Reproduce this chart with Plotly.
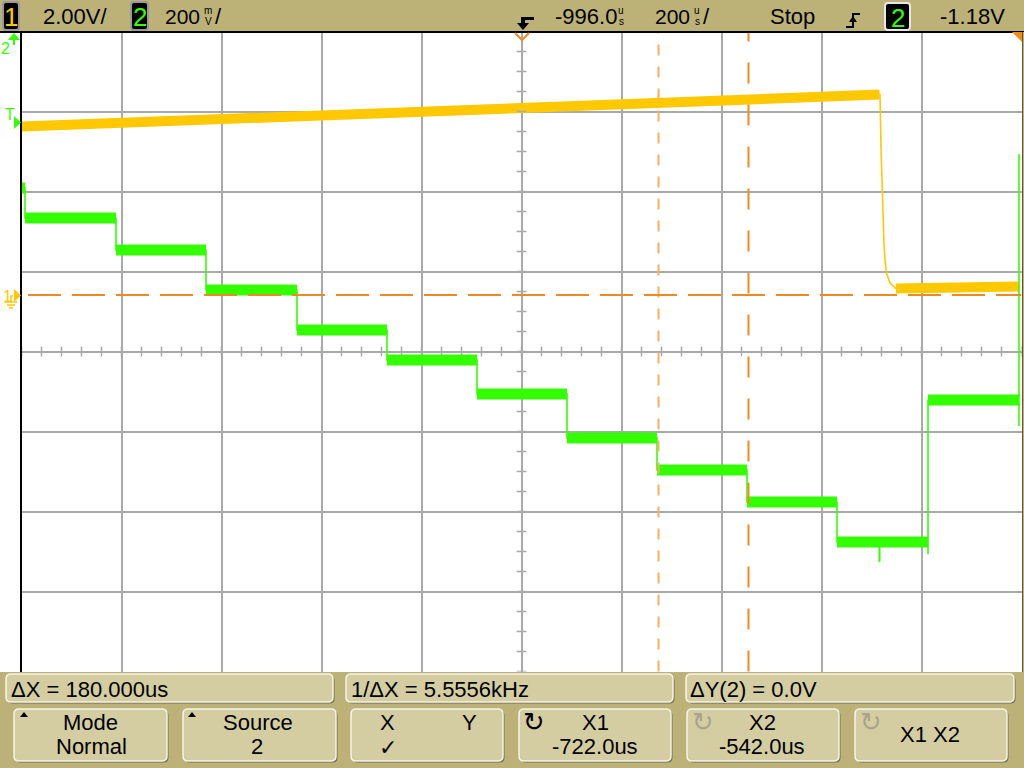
import plotly.graph_objects as go

W, H = 1024, 768
FONT = "Liberation Sans, Arial, sans-serif"

# ---------------- data ----------------
# Channel 1 (yellow, 2.00 V/div), time in microseconds, volts
ch1_t = [-1996, -279, -277, -275, -273, -271, -269, -266, -259, -247, -1]
ch1_v = [4.21, 5.01, 3.71, 2.63, 1.83, 1.25, 0.88, 0.55, 0.30, 0.16, 0.21]

# Channel 2 (green, 200 mV/div) staircase: step edges and levels
ch2_edges = [-1996, -1989, -1807, -1627, -1445, -1265, -1085, -905, -725, -545, -365, -183, -1]
ch2_levels = [-1.345, -1.42, -1.50, -1.60, -1.70, -1.775, -1.86, -1.97, -2.05, -2.13, -2.23, -1.875]
ch2_glitch_t = [-280]
ch2_glitch_v = [-2.28]
ch2_end_spike_v = [-1.94, -1.26]

# scope settings
t_center = -996.0
t_per_div = 200.0
ch1_per_div = 2.0
ch1_center = -1.4125
ch2_per_div = 0.2
ch2_center = -1.75375
cursor_x1 = -722.0
cursor_x2 = -542.0

# ---------------- geometry ----------------
PX0, PX1 = 21.5, 1021.5
PY0, PY1 = 31.5, 671.5
YEL = "#FFC800"
GRN = "#33FF00"
TAN = "#BCB278"
GRID = "#A9A9A9"


def X(x):
    return x / W


def Y(y):
    return 1 - y / H


fig = go.Figure()

# ---- channel 1 ----
band1_t = [ch1_t[0], ch1_t[1] - 1, None, ch1_t[-2], ch1_t[-1]]
band1_v = [ch1_v[0], ch1_v[1], None, ch1_v[-2], ch1_v[-1]]
fig.add_trace(go.Scatter(x=band1_t, y=band1_v, mode="lines", line=dict(color=YEL, width=10),
                         yaxis="y", hoverinfo="skip"))
fig.add_trace(go.Scatter(x=ch1_t, y=ch1_v, mode="lines", line=dict(color=YEL, width=1.6),
                         yaxis="y", hoverinfo="skip"))

# ---- channel 2 ----
bt, bv, lt, lv = [], [], [], []
n = len(ch2_levels)
for i, lev in enumerate(ch2_levels):
    a, b = ch2_edges[i], ch2_edges[i + 1]
    bt += [a, b, None]
    bv += [lev, lev, None]
    if i == n - 1:
        # rising edge overshoots downward first
        lt += [a, a, b]
        lv += [ch2_levels[i - 1] - 0.03, lev, lev]
    else:
        lt += [a, b]
        lv += [lev, lev]
lt += [ch2_edges[-1], ch2_edges[-1]]
lv += ch2_end_spike_v
fig.add_trace(go.Scatter(x=bt, y=bv, mode="lines", line=dict(color=GRN, width=11),
                         yaxis="y2", hoverinfo="skip"))
fig.add_trace(go.Scatter(x=lt, y=lv, mode="lines", line=dict(color=GRN, width=1.6),
                         yaxis="y2", hoverinfo="skip"))
# glitch
gx, gy = [], []
for gt, gv in zip(ch2_glitch_t, ch2_glitch_v):
    lev = [l for i, l in enumerate(ch2_levels) if ch2_edges[i] < gt < ch2_edges[i + 1]][0]
    gx += [gt, gt, None]
    gy += [lev, gv, None]
fig.add_trace(go.Scatter(x=gx, y=gy, mode="lines", line=dict(color=GRN, width=2),
                         yaxis="y2", hoverinfo="skip"))

# ---- centre-axis tick marks ----
t_lo, t_hi = t_center - 5 * t_per_div, t_center + 5 * t_per_div
y_lo, y_hi = ch1_center - 4 * ch1_per_div, ch1_center + 4 * ch1_per_div
ht = [t_lo + k * t_per_div / 5 for k in range(51)]
fig.add_trace(go.Scatter(x=ht, y=[ch1_center] * len(ht), mode="markers", yaxis="y",
                         marker=dict(symbol="line-ns-open", size=7, color=GRID,
                                     line=dict(width=1.5, color=GRID)),
                         hoverinfo="skip"))
vt = [y_lo + k * ch1_per_div / 4 for k in range(33)]
fig.add_trace(go.Scatter(x=[t_center] * len(vt), y=vt, mode="markers", yaxis="y",
                         marker=dict(symbol="line-ew-open", size=7, color=GRID,
                                     line=dict(width=1.5, color=GRID)),
                         hoverinfo="skip"))

shapes = []
ann = []


def path_shape(d, fill=None, line=None, width=0):
    s = dict(type="path", path=d, xref="paper", yref="paper", layer="above",
             line=dict(color=line or "rgba(0,0,0,0)", width=width))
    if fill:
        s["fillcolor"] = fill
    return s


def poly(pts, close=True):
    d = "M " + " L ".join(f"{X(x)},{Y(y)}" for x, y in pts)
    return d + (" Z" if close else "")


def rect(x0, y0, x1, y1, fill, line=None, width=0):
    return dict(type="rect", xref="paper", yref="paper", x0=X(x0), x1=X(x1), y0=Y(y1), y1=Y(y0),
                fillcolor=fill, line=dict(color=line or "rgba(0,0,0,0)", width=width), layer="above")


def rrect(x0, y0, x1, y1, r=5):
    return (f"M {X(x0+r)},{Y(y0)} L {X(x1-r)},{Y(y0)} Q {X(x1)},{Y(y0)} {X(x1)},{Y(y0+r)} "
            f"L {X(x1)},{Y(y1-r)} Q {X(x1)},{Y(y1)} {X(x1-r)},{Y(y1)} L {X(x0+r)},{Y(y1)} "
            f"Q {X(x0)},{Y(y1)} {X(x0)},{Y(y1-r)} L {X(x0)},{Y(y0+r)} Q {X(x0)},{Y(y0)} {X(x0+r)},{Y(y0)} Z")


def text(s, x, y, size=22, color="black", xanchor="center", family=FONT):
    ann.append(dict(text=s, x=X(x), y=Y(y), xref="paper", yref="paper", showarrow=False,
                    xanchor=xanchor, yanchor="middle", font=dict(size=size, color=color, family=family)))


# cursors
shapes.append(dict(type="line", xref="x", yref="y domain", x0=cursor_x1, x1=cursor_x1, y0=0, y1=1,
                   line=dict(color="#F5B060", width=2, dash="11px,11px"), layer="above"))
shapes.append(dict(type="line", xref="x", yref="y domain", x0=cursor_x2, x1=cursor_x2, y0=0, y1=1,
                   line=dict(color="#F08C1E", width=2, dash="21px,21px"), layer="above"))
# channel 1 ground reference dashed line
shapes.append(dict(type="line", xref="paper", yref="y", x0=X(28), x1=X(1021), y0=0, y1=0,
                   line=dict(color="#EE8A22", width=2, dash="33px,11px"), layer="above"))

# top bar
shapes.append(rect(0, 0, 1024, 32, TAN))
shapes.append(dict(type="line", xref="paper", yref="paper", x0=0, x1=1, y0=Y(32), y1=Y(32),
                   line=dict(color="black", width=2), layer="above"))
# bottom panel
shapes.append(rect(0, 672, 1024, 768, TAN))
shapes.append(rect(1022.5, 32, 1024, 672, TAN))

# channel boxes in top bar
for (x0, x1, y0, y1, ch, col, bd) in [(3, 19, 2, 30, "1", YEL, "#9A9A9A"),
                                      (131, 148, 2, 30, "2", GRN, "#9A9A9A"),
                                      (885, 910, 3, 30, "2", GRN, "#E8E8E8")]:
    shapes.append(path_shape(rrect(x0, y0, x1, y1, 3), fill="black", line=bd, width=2))
    text(ch, (x0 + x1) / 2, (y0 + y1) / 2 + 1, size=26, color=col)

text("2.00V/", 41, 17, xanchor="left")
text("200", 202, 17, size=21, xanchor="right")
text("m", 208, 11, size=10)
text("V", 208, 21, size=10)
text("/", 213, 17, xanchor="left")
text("-996.0", 553, 17, xanchor="left")
text("u", 621, 11, size=10)
text("s", 621, 21, size=10)
text("200", 692, 17, size=21, xanchor="right")
text("u", 697, 11, size=10)
text("s", 697, 21, size=10)
text("/", 701, 17, xanchor="left")
text("Stop", 768, 17, xanchor="left")
text("-1.18V", 938, 17, xanchor="left")

# trigger delay marker (black)
shapes.append(path_shape(poly([(517, 17), (534, 17), (534, 20), (525, 20), (525, 23), (529, 23),
                                (523, 30), (517, 23), (521, 23), (521, 17)]), fill="black"))
# trigger slope symbol
shapes.append(path_shape(poly([(846, 27), (853, 27), (853, 14), (860, 14)], close=False),
                         line="black", width=2))
shapes.append(path_shape(poly([(849, 22), (857, 22), (853, 16)]), fill="black"))

# orange markers in the graticule
shapes.append(path_shape(poly([(515, 33), (522, 40), (529, 33)], close=False), line="#F08C1E", width=2))
shapes.append(path_shape(poly([(1012, 32), (1022, 32), (1022, 42)]), fill="#F08C1E"))

# channel 2 ground indicator (off-screen, up arrow)
shapes.append(path_shape(poly([(8, 40), (20, 40), (14, 33)]), fill=GRN))
shapes.append(dict(type="line", xref="paper", yref="paper", x0=X(14), x1=X(14), y0=Y(40), y1=Y(45),
                   line=dict(color=GRN, width=2), layer="above"))
text("2", 5, 48, size=16, color=GRN)
# trigger level marker
text("T", 10, 114, size=16, color=GRN)
shapes.append(path_shape(poly([(14, 116), (14, 129), (21, 122.5)]), fill=GRN))
# channel 1 ground marker
text("1", 7, 296, size=16, color=YEL)
shapes.append(path_shape(poly([(14, 289), (14, 302), (21, 295.5)]), fill=YEL))
shapes.append(path_shape(poly([(13, 296), (11, 296), (11, 302)], close=False), line=YEL, width=1.5))
for (a, b, yy) in [(5, 17, 302), (7, 15, 305), (9, 13, 308)]:
    shapes.append(dict(type="line", xref="paper", yref="paper", x0=X(a), x1=X(b), y0=Y(yy), y1=Y(yy),
                       line=dict(color=YEL, width=1.5), layer="above"))

# bottom softkey boxes
BOX = "#D4CDA2"


def box(x0, y0, x1, y1):
    shapes.append(path_shape(rrect(x0 + 1.5, y0 + 1.5, x1 + 1.5, y1 + 1.5), fill="#6E6A4C"))
    shapes.append(path_shape(rrect(x0, y0, x1, y1), fill=BOX, line="#F6F4E8", width=1.5))


box(6, 674, 333, 702)
box(346, 674, 673, 702)
box(686, 674, 1014, 702)
for (a, b) in [(14, 167), (183, 336), (351, 503), (519, 671), (687, 839), (855, 1007)]:
    box(a, 709, b, 761)

# small up-triangles in Mode / Source keys
for x0 in (20, 188):
    shapes.append(path_shape(poly([(x0, 717), (x0 + 8, 717), (x0 + 4, 712)]), fill="black"))

text("ΔX = 180.000us", 9, 689, xanchor="left")
text("1/ΔX = 5.5556kHz", 349, 689, xanchor="left")
text("ΔY(2) = 0.0V", 688, 689, xanchor="left")
text("Mode", 90, 722)
text("Normal", 91, 746)
text("Source", 258, 722)
text("2", 257, 746)
text("X", 387, 722)
text("Y", 469, 722)
text("✓", 388, 747, size=22, family="DejaVu Sans")
text("↻", 534, 722, size=26, family="DejaVu Sans")
text("X1", 595, 722)
text("-722.0us", 595, 746)
text("↻", 703, 722, size=26, color="#A8A48A", family="DejaVu Sans")
text("X2", 762, 722)
text("-542.0us", 762, 746)
text("↻", 871, 722, size=26, color="#A8A48A", family="DejaVu Sans")
text("X1 X2", 930, 734)

fig.update_layout(
    width=W, height=H, margin=dict(l=0, r=0, t=0, b=0),
    paper_bgcolor="white", plot_bgcolor="white", showlegend=False, hovermode=False,
    xaxis=dict(domain=[X(PX0), X(PX1)], range=[t_lo, t_hi], tick0=t_center, dtick=t_per_div,
               showgrid=True, gridcolor=GRID, gridwidth=1.5, zeroline=False, showticklabels=False,
               ticks="", showline=True, mirror=True, linecolor="black", linewidth=2),
    yaxis=dict(domain=[Y(PY1), Y(PY0)], range=[y_lo, y_hi], tick0=ch1_center, dtick=ch1_per_div,
               showgrid=True, gridcolor=GRID, gridwidth=1.5, zeroline=False, showticklabels=False,
               ticks="", showline=True, mirror=True, linecolor="black", linewidth=2),
    yaxis2=dict(domain=[Y(PY1), Y(PY0)], overlaying="y", range=[ch2_center - 4 * ch2_per_div,
                                                                  ch2_center + 4 * ch2_per_div],
                showgrid=False, zeroline=False, showticklabels=False, ticks="", showline=False),
    shapes=shapes, annotations=ann,
)

fig.write_html("out.html")
